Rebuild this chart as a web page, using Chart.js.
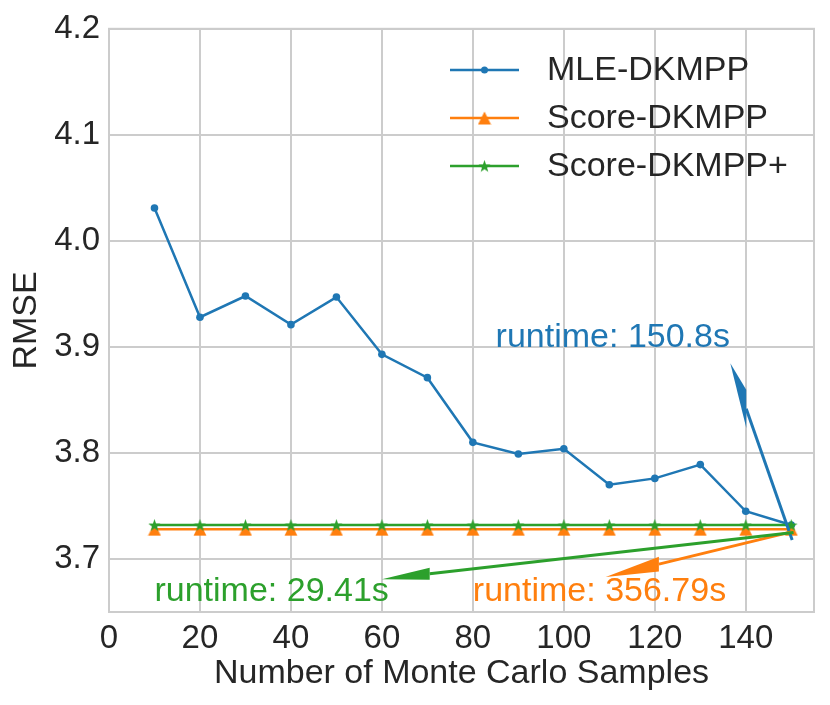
<!DOCTYPE html>
<html>
<head>
<meta charset="utf-8">
<script src="https://cdn.jsdelivr.net/npm/chart.js@4.4.0/dist/chart.umd.min.js"></script>
<style>
  html, body { margin: 0; padding: 0; background: #fff; }
  #wrap { width: 830px; height: 705px; position: relative; }
</style>
</head>
<body>
<div id="wrap"><canvas id="rmseChart"></canvas></div>
<script>
// Data
const samples = [10, 20, 30, 40, 50, 60, 70, 80, 90, 100, 110, 120, 130, 140, 150];
const mleRmse = [4.031, 3.928, 3.948, 3.921, 3.947, 3.893, 3.871, 3.810, 3.799, 3.804, 3.770, 3.776, 3.789, 3.745, 3.732];
const scoreRmse = [3.728, 3.728, 3.728, 3.728, 3.728, 3.728, 3.728, 3.728, 3.728, 3.728, 3.728, 3.728, 3.728, 3.728, 3.728];
const scorePlusRmse = [3.732, 3.732, 3.732, 3.732, 3.732, 3.732, 3.732, 3.732, 3.732, 3.732, 3.732, 3.732, 3.732, 3.732, 3.732];
const xTicks = [0, 20, 40, 60, 80, 100, 120, 140];
const yTicks = [3.7, 3.8, 3.9, 4.0, 4.1, 4.2];
const seriesNames = ['MLE-DKMPP', 'Score-DKMPP', 'Score-DKMPP+'];
const colors = ['#1f77b4', '#ff7f0e', '#2ca02c'];

// runtime notes, in data units (text anchor, arrow tail -> tip, head size)
const notes = [
  { text: 'runtime: 150.8s', color: colors[0], at: [85, 3.90], tail: [150.2, 3.718], tip: [136.6, 3.8845], headLen: 3.5, headWidth: 0.036 },
  { text: 'runtime: 356.79s', color: colors[1], at: [80, 3.66], tail: [150.5, 3.726], tip: [109.2, 3.683], headLen: 11.7, headWidth: 0.014 },
  { text: 'runtime: 29.41s', color: colors[2], at: [10, 3.66], tail: [150.5, 3.725], tip: [60.0, 3.681], headLen: 10.5, headWidth: 0.0113 }
];

const FONT = '"Liberation Sans", Arial, sans-serif';
const INK = '#262626';
const GRID = '#cccccc';

function makeMarker(kind, color, size) {
    const c = document.createElement('canvas');
    c.width = size; c.height = size;
    const g = c.getContext('2d');
    const h = size / 2;
    g.fillStyle = color;
    g.beginPath();
    if (kind === 'triangle') {
        g.moveTo(h, 0.5);
        g.lineTo(size - 0.5, size - 0.5);
        g.lineTo(0.5, size - 0.5);
    } else {
        for (let i = 0; i < 10; i++) {
            const r = i % 2 ? h * 0.4 : h;
            const a = -Math.PI / 2 + i * Math.PI / 5;
            g.lineTo(h + r * Math.cos(a), h + 0.6 + r * Math.sin(a));
        }
    }
    g.closePath();
    g.fill();
    return c;
}

const triangleImg = makeMarker('triangle', colors[1], 14);
const starImg = makeMarker('star', colors[2], 13);

function toPoints(values) {
    return samples.map((x, i) => ({ x: x, y: values[i] }));
}

const overlay = {
    id: 'overlay',
    beforeDatasetsDraw(chart) {
        const { ctx, chartArea: a } = chart;
        ctx.save();
        ctx.strokeStyle = GRID;
        ctx.lineWidth = 2;
        ctx.strokeRect(a.left, a.top, a.right - a.left, a.bottom - a.top);
        ctx.restore();
    },
    afterDatasetsDraw(chart) {
        const { ctx } = chart;
        const xs = chart.scales.x, ys = chart.scales.y;
        const px = p => [xs.getPixelForValue(p[0]), ys.getPixelForValue(p[1])];
        ctx.save();
        notes.forEach(n => {
            // arrow built in data space, then mapped through the scales
            const dx = n.tip[0] - n.tail[0], dy = n.tip[1] - n.tail[1];
            const len = Math.hypot(dx, dy);
            const ux = dx / len, uy = dy / len;
            const base = [n.tip[0] - ux * n.headLen, n.tip[1] - uy * n.headLen];
            const hw = n.headWidth / 2;
            const b1 = [base[0] - uy * hw, base[1] + ux * hw];
            const b2 = [base[0] + uy * hw, base[1] - ux * hw];
            ctx.strokeStyle = n.color;
            ctx.fillStyle = n.color;
            ctx.lineWidth = 3;
            ctx.beginPath();
            ctx.moveTo(...px(n.tail));
            ctx.lineTo(...px(base));
            ctx.stroke();
            ctx.beginPath();
            ctx.moveTo(...px(n.tip));
            ctx.lineTo(...px(b1));
            ctx.lineTo(...px(b2));
            ctx.closePath();
            ctx.fill();

            ctx.font = '34px ' + FONT;
            ctx.textAlign = 'left';
            ctx.textBaseline = 'alphabetic';
            ctx.fillText(n.text, ...px(n.at));
        });

        // legend, upper right inside the axes
        const markers = ['circle', triangleImg, starImg];
        ctx.font = '34px ' + FONT;
        ctx.textBaseline = 'middle';
        seriesNames.forEach((name, i) => {
            const y = 70 + i * 48;
            ctx.strokeStyle = colors[i];
            ctx.lineWidth = 2.5;
            ctx.beginPath();
            ctx.moveTo(450, y);
            ctx.lineTo(519, y);
            ctx.stroke();
            if (markers[i] === 'circle') {
                ctx.fillStyle = colors[i];
                ctx.beginPath();
                ctx.arc(484.5, y, 3.5, 0, Math.PI * 2);
                ctx.fill();
            } else {
                const m = markers[i];
                ctx.drawImage(m, 484.5 - m.width / 2, y - m.height / 2);
            }
            ctx.fillStyle = INK;
            ctx.fillText(name, 547, y + 1);
        });
        ctx.restore();
    }
};

const ctx = document.getElementById('rmseChart').getContext('2d');
new Chart(ctx, {
    type: 'line',
    data: {
        datasets: [
            {
                label: seriesNames[0],
                data: toPoints(mleRmse),
                borderColor: colors[0],
                backgroundColor: colors[0],
                borderWidth: 2.5,
                pointStyle: 'circle',
                pointRadius: 3.8,
                pointBorderWidth: 0,
                order: 2
            },
            {
                label: seriesNames[1],
                data: toPoints(scoreRmse),
                borderColor: colors[1],
                backgroundColor: colors[1],
                borderWidth: 2.5,
                pointStyle: triangleImg,
                order: 1
            },
            {
                label: seriesNames[2],
                data: toPoints(scorePlusRmse),
                borderColor: colors[2],
                backgroundColor: colors[2],
                borderWidth: 2.5,
                pointStyle: starImg,
                order: 0
            }
        ]
    },
    options: {
        responsive: true,
        maintainAspectRatio: false,
        animation: false,
        events: [],
        layout: { padding: { left: 0, top: 27, right: 16, bottom: 0 } },
        plugins: { legend: { display: false }, tooltip: { enabled: false } },
        scales: {
            x: {
                type: 'linear',
                min: 0,
                max: 155,
                afterBuildTicks: s => { s.ticks = xTicks.map(v => ({ value: v })); },
                afterFit: s => { s.height = 93; },
                border: { display: false },
                grid: { color: GRID, lineWidth: 2, drawTicks: false },
                ticks: {
                    font: { family: FONT, size: 33 },
                    color: INK,
                    padding: 7,
                    maxRotation: 0,
                    autoSkip: false
                },
                title: {
                    display: true,
                    text: 'Number of Monte Carlo Samples',
                    font: { family: FONT, size: 34 },
                    color: INK,
                    padding: { top: 0, bottom: 11 }
                }
            },
            y: {
                min: 3.65,
                max: 4.2,
                afterBuildTicks: s => { s.ticks = yTicks.map(v => ({ value: v })); },
                afterFit: s => { s.width = 109; },
                border: { display: false },
                grid: { color: GRID, lineWidth: 2, drawTicks: false },
                ticks: {
                    font: { family: FONT, size: 33 },
                    color: INK,
                    padding: 9,
                    callback: v => v.toFixed(1)
                },
                title: {
                    display: true,
                    text: 'RMSE',
                    font: { family: FONT, size: 34 },
                    color: INK,
                    padding: { top: 6, bottom: 0 }
                }
            }
        }
    },
    plugins: [overlay]
});
</script>
</body>
</html>
